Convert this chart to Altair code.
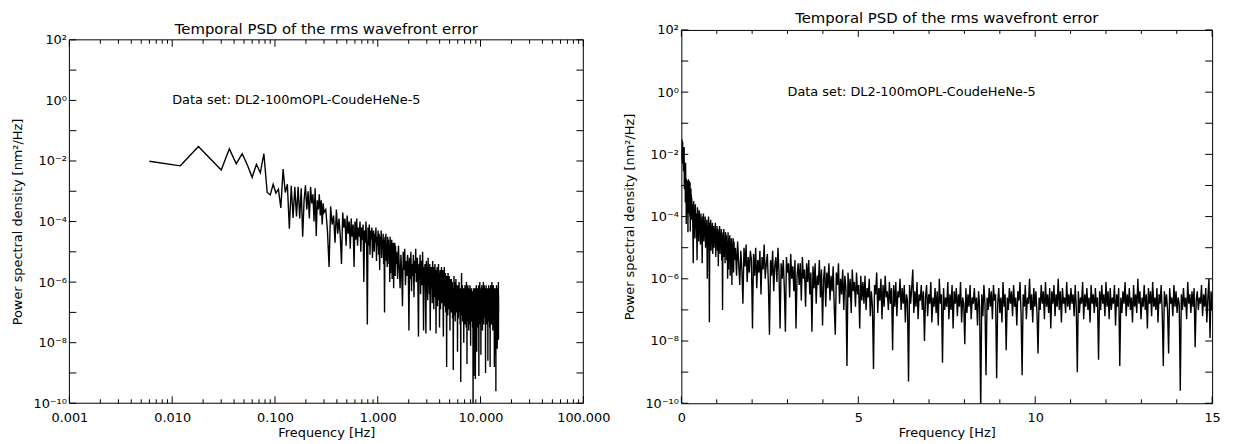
import altair as alt
import pandas as pd

# ---------------- data ----------------
# FFT frequency bins, in three segments: (start Hz, step Hz)
SEG_A = (0.006, 0.006)
SEG_B = (0.312, 0.012)
SEG_C = (1.53, 0.03)

# log10 of PSD [nm^2/Hz]
PSD_LOG10_A = [
    -2.01, -2.16, -1.52, -1.96, -2.30, -1.60, -2.09, -1.76, -2.14, -2.54,
    -2.11, -2.39, -1.76, -3.04, -3.12, -2.77, -3.06, -2.93, -3.55, -2.27,
    -3.04, -2.77, -4.24, -2.82, -3.88, -2.85, -3.83, -2.85, -3.90, -2.90,
    -4.50, -3.30, -2.80, -3.60, -3.00, -3.90, -2.85, -3.40, -3.10, -4.00,
    -2.90, -4.48, -3.30, -3.60, -3.10, -3.80, -3.30, -4.10, -3.40, -3.70,
]
PSD_LOG10_B = [
    -3.6, -4.3, -5.5, -3.5, -4.1, -3.8, -4.7, -3.6, -4.4, -3.9,
    -4.5, -5.4, -3.7, -4.2, -3.9, -4.8, -3.8, -4.4, -4.0, -4.9,
    -3.9, -4.5, -4.1, -5.5, -4.0, -4.6, -3.9, -4.8, -4.2, -4.5,
    -4.0, -5.0, -4.2, -4.6, -4.1, -6.0, -4.3, -4.7, -4.0, -4.9,
    -7.4, -4.2, -4.8, -4.1, -5.1, -4.3, -4.6, -4.2, -5.2, -4.4,
    -4.3, -5.0, -4.4, -4.7, -4.2, -5.3, -4.5, -4.8, -4.3, -5.1,
    -4.4, -5.6, -4.5, -4.9, -4.3, -5.2, -4.6, -4.8, -4.4, -5.4,
    -4.6, -7.0, -4.5, -5.0, -4.4, -5.3, -4.7, -5.5, -4.5, -4.9,
    -4.6, -5.4, -4.8, -6.0, -4.5, -5.7, -4.7, -5.0, -4.6, -5.9,
    -4.8, -5.2, -4.7, -6.2, -4.9, -5.3, -4.7, -5.8, -4.8, -5.4,
]
PSD_LOG10_C = [
    -5.0, -5.9, -4.8, -5.5, -6.2, -5.1, -5.7, -6.8, -5.0, -5.6, -4.9, -6.1, -5.3, -5.8, -5.1,
    -5.4, -7.6, -5.2, -5.9, -5.0, -6.3, -5.4, -5.8, -5.1, -6.5, -5.3, -5.7, -4.9, -6.0, -5.5,
    -5.2, -6.2, -7.8, -5.4, -5.9, -5.1, -6.4, -5.6, -5.3, -6.1, -5.0, -5.8, -7.6, -5.5, -6.0,
    -5.4, -6.3, -7.7, -5.3, -5.8, -5.5, -6.6, -5.2, -6.0, -5.6, -6.4, -5.4, -7.6, -5.9, -5.5,
    -6.2, -5.5, -6.7, -5.3, -6.0, -5.7, -6.9, -5.5, -6.1, -5.4, -6.5, -5.8, -7.7, -5.6, -6.3,
    -5.5, -6.8, -5.9, -6.2, -5.4, -6.6, -5.7, -7.5, -6.0, -5.6, -6.9, -5.8, -6.3, -5.5, -6.7,
    -5.9, -6.4, -5.6, -6.9, -7.8, -5.8, -6.2, -5.5, -6.8, -6.0, -6.5, -5.7, -7.0, -5.9, -6.3,
    -8.8, -5.8, -6.6, -6.0, -7.1, -5.7, -6.4, -6.1, -6.9, -5.8, -6.5, -6.2, -7.6, -5.9, -6.7,
    -6.1, -6.8, -5.9, -7.0, -6.3, -6.6, -6.0, -7.2, -6.4, -6.9, -8.9, -6.2, -6.5, -5.8, -7.1,
    -6.3, -6.7, -6.0, -7.3, -6.2, -6.9, -5.9, -6.6, -6.4, -7.0, -6.1, -6.8, -6.3, -8.3, -6.2,
    -6.9, -6.1, -7.2, -6.4, -6.6, -6.0, -7.0, -6.3, -6.8, -6.2, -7.4, -6.5, -6.7, -9.3, -6.2,
    -6.8, -6.3, -5.7, -7.1, -6.4, -6.9, -6.1, -7.3, -6.5, -6.7, -6.2, -7.0, -6.4, -8.0, -6.6,
    -6.2, -7.2, -6.5, -6.8, -6.1, -7.4, -6.6, -6.9, -6.3, -7.1, -6.4, -7.5, -6.0, -6.8, -6.5,
    -8.7, -6.3, -7.0, -6.6, -6.9, -6.1, -7.3, -6.5, -7.0, -6.2, -7.6, -6.4, -6.8, -6.3, -7.2,
    -6.5, -6.9, -6.1, -7.4, -6.6, -6.8, -8.1, -6.3, -7.1, -6.5, -6.9, -6.2, -7.3, -6.6, -6.8,
    -6.3, -7.0, -6.6, -7.5, -6.4, -6.9, -10.3, -6.5, -7.2, -6.2, -6.8, -9.1, -6.6, -7.0, -6.3,
    -6.9, -6.4, -7.3, -6.2, -6.7, -6.5, -9.2, -6.8, -6.3, -7.1, -6.6, -7.4, -6.1, -6.9, -6.5,
    -8.3, -6.6, -7.0, -6.3, -6.8, -6.4, -7.2, -6.2, -6.9, -6.6, -7.5, -6.4, -6.7, -6.1, -7.1,
    -9.1, -6.5, -6.9, -6.2, -7.3, -6.6, -6.8, -6.0, -7.0, -6.5, -7.4, -6.3, -6.9, -6.4, -7.1,
    -8.4, -6.6, -7.0, -6.2, -6.8, -6.4, -7.3, -6.1, -6.9, -6.5, -7.1, -6.3, -7.6, -6.4, -6.8,
    -6.2, -7.2, -6.5, -6.9, -6.0, -7.0, -6.4, -7.4, -6.3, -6.8, -6.6, -7.1, -6.1, -6.9, -6.5,
    -7.0, -6.3, -6.8, -6.5, -7.2, -6.2, -6.9, -9.0, -6.4, -7.1, -6.6, -6.8, -6.1, -7.3, -6.5,
    -6.9, -6.3, -7.0, -6.6, -7.4, -6.2, -6.8, -6.5, -7.1, -6.3, -6.9, -6.6, -8.6, -6.4, -7.0,
    -6.2, -6.8, -6.5, -7.2, -6.1, -6.9, -6.4, -7.3, -6.3, -7.0, -6.6, -6.8, -6.2, -7.5, -6.5,
    -6.9, -6.3, -8.8, -6.6, -7.1, -6.4, -6.8, -6.1, -7.2, -6.5, -6.9, -6.3, -7.0, -6.6, -7.4,
    -6.2, -6.9, -6.5, -7.1, -6.0, -6.8, -6.4, -7.3, -6.6, -6.9, -6.2, -7.0, -6.5, -7.6, -6.3,
    -6.8, -6.4, -7.2, -6.1, -6.9, -6.6, -7.0, -6.3, -7.4, -6.5, -6.8, -6.2, -7.1, -8.8, -6.4,
    -6.9, -6.5, -7.0, -8.4, -6.3, -6.8, -6.6, -7.2, -6.2, -6.9, -6.4, -7.1, -6.6, -6.8, -9.6,
    -6.5, -7.0, -6.3, -6.9, -6.6, -7.3, -6.1, -6.8, -6.5, -7.1, -6.4, -6.9, -6.3, -8.2, -6.7,
    -6.4, -7.0, -6.6, -6.8, -6.2, -7.2, -6.5, -6.9, -6.3, -7.4, -6.6, -6.0, -7.9, -6.4, -7.0,
]

TITLE = "Temporal PSD of the rms wavefront error"
X_TITLE = "Frequency [Hz]"
Y_TITLE = "Power spectral density [nm²/Hz]"
NOTE = "Data set: DL2-100mOPL-CoudeHeNe-5"
NOTE_POS_LOG = (0.01, 1.0)   # (Hz, nm^2/Hz) where the note starts, left panel
NOTE_POS_LIN = (3.0, 1.0)    # right panel

X_LOG_TICKS = [0.001, 0.01, 0.1, 1, 10, 100]
X_LIN_TICKS = [0, 5, 10, 15]
X_LIN_MINOR = [1, 2, 3, 4, 6, 7, 8, 9, 11, 12, 13, 14]
Y_EXPONENTS = [2, 0, -2, -4, -6, -8, -10]
Y_TICK_LABELS = ["10²", "10⁰", "10⁻²", "10⁻⁴", "10⁻⁶", "10⁻⁸", "10⁻¹⁰"]
Y_DECADES = [2, 1, 0, -1, -2, -3, -4, -5, -6, -7, -8, -9, -10]

# ---------------- tables ----------------
rows = []
for (start, step), logs in ((SEG_A, PSD_LOG10_A), (SEG_B, PSD_LOG10_B), (SEG_C, PSD_LOG10_C)):
    for i, lv in enumerate(logs):
        rows.append({"f": round(start + step * i, 4), "p": 10.0 ** lv})
psd = pd.DataFrame(rows)

log_major = pd.DataFrame({"f": X_LOG_TICKS})
log_minor = pd.DataFrame({"f": [m * 10.0 ** d for d in range(-3, 2) for m in range(2, 10)]})
lin_major = pd.DataFrame({"f": X_LIN_TICKS})
lin_minor = pd.DataFrame({"f": X_LIN_MINOR})
y_dec = pd.DataFrame({"p": [10.0 ** e for e in Y_DECADES]})

# ---------------- styles ----------------
FONT = "DejaVu Sans"
LEFT_W = 519
RIGHT_W = 536
H = 377          # both panels share the row height
LEFT_TOP = 10    # left panel's frame starts lower than the right one
MAJ, MIN = 7, 4

y_label_expr = " : ".join(
    f"round(log(datum.value)/LN10) == {e} ? '{lab}'" for e, lab in zip(Y_EXPONENTS, Y_TICK_LABELS)
) + " : ''"


def y_axis(top):
    return alt.Axis(values=[10.0 ** e for e in Y_EXPONENTS], labelExpr=y_label_expr, title=Y_TITLE,
                    ticks=False, domain=False, grid=False, labelPadding=3, titleX=-45,
                    titleY=(H + top) / 2, labelOverlap=False)


def x_axis(values, fmt):
    return alt.Axis(values=values, format=fmt, title=X_TITLE, ticks=False, domain=False,
                    grid=False, labelPadding=8, titlePadding=3, labelOverlap=False, labelFlush=False)


def panel(xscale, xaxis, yscale, top, xmajor, xminor, note_pos, w, title, frame):
    X = lambda: alt.X("f:Q", scale=xscale, axis=xaxis)
    Y = lambda: alt.Y("p:Q", scale=yscale, axis=y_axis(top))
    rule = lambda d: alt.Chart(d).mark_rule(color="black", strokeWidth=1)
    layers = [alt.Chart(psd).mark_line(color="black", strokeWidth=1.4, clip=True).encode(x=X(), y=Y())]
    for df, ln in ((xmajor, MAJ), (xminor, MIN)):
        layers.append(rule(df).encode(x=X(), y=alt.value(H), y2=alt.value(H - ln)))
        layers.append(rule(df).encode(x=X(), y=alt.value(top), y2=alt.value(top + ln)))
    layers.append(rule(y_dec).encode(y=Y(), x=alt.value(0), x2=alt.value(MAJ)))
    layers.append(rule(y_dec).encode(y=Y(), x=alt.value(w - MAJ), x2=alt.value(w)))
    if frame:
        one = pd.DataFrame({"k": [0]})
        s = dict(color="black", strokeWidth=1)
        layers.append(alt.Chart(one).mark_rule(**s).encode(x=alt.value(0), x2=alt.value(w), y=alt.value(top)))
        layers.append(alt.Chart(one).mark_rule(**s).encode(x=alt.value(0), x2=alt.value(w), y=alt.value(H)))
        layers.append(alt.Chart(one).mark_rule(**s).encode(x=alt.value(0), y=alt.value(top), y2=alt.value(H)))
        layers.append(alt.Chart(one).mark_rule(**s).encode(x=alt.value(w), y=alt.value(top), y2=alt.value(H)))
    note = pd.DataFrame({"f": [note_pos[0]], "p": [note_pos[1]], "t": [NOTE]})
    layers.append(alt.Chart(note).mark_text(align="left", baseline="middle", font=FONT, fontSize=13,
                                            color="black").encode(x=X(), y=Y(), text="t:N"))
    ch = alt.layer(*layers).properties(width=w, height=H, title=title)
    if frame:
        ch = ch.properties(view=alt.ViewBackground(stroke=None))
    return ch


left = panel(alt.Scale(type="log", domain=[0.001, 100], nice=False), x_axis(X_LOG_TICKS, ".3f"),
             alt.Scale(type="log", domain=[1e-10, 1e2], nice=False, range=[H, LEFT_TOP]), LEFT_TOP,
             log_major, log_minor, NOTE_POS_LOG, LEFT_W,
             alt.TitleParams(text=TITLE, dy=5), True)
right = panel(alt.Scale(domain=[0, 15], nice=False, zero=False), x_axis(X_LIN_TICKS, "d"),
              alt.Scale(type="log", domain=[1e-10, 1e2], nice=False), 0,
              lin_major, lin_minor, NOTE_POS_LIN, RIGHT_W,
              alt.TitleParams(text=TITLE), False)

chart = alt.hconcat(left, right, spacing=13).resolve_scale(x="independent", y="independent").configure_view(
    stroke="black", strokeWidth=1
).configure_title(
    font=FONT, fontSize=15, fontWeight="normal", color="black", anchor="middle", offset=-2
).configure_axis(
    labelFont=FONT, titleFont=FONT, labelFontSize=13, titleFontSize=13, titleFontWeight="normal",
    labelColor="black", titleColor="black"
).properties(padding={"left": 4, "top": 0, "right": 4, "bottom": 0}, background="white")

chart.save("out.html", embed_options={"renderer": "svg", "actions": False})
